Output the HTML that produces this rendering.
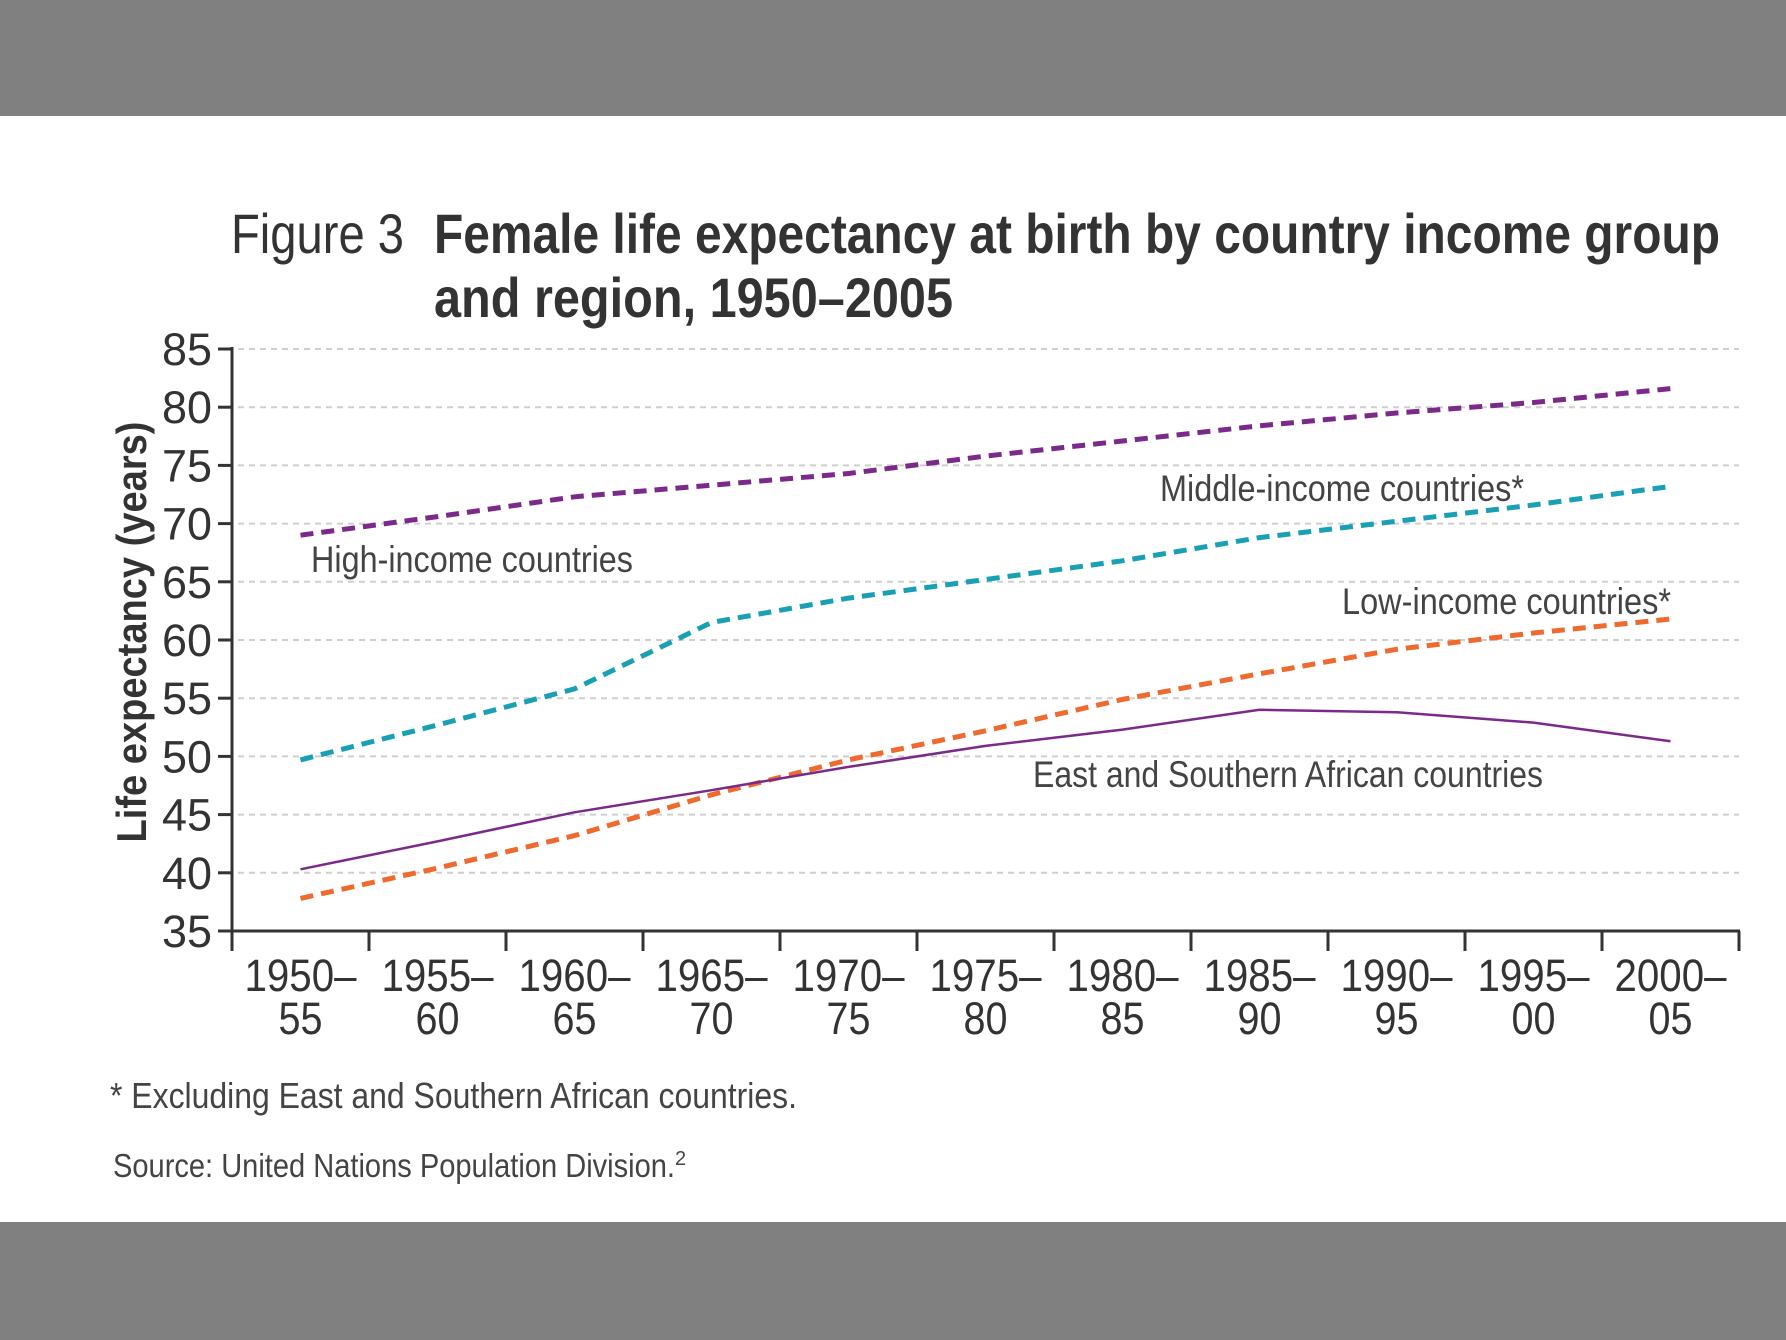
<!DOCTYPE html>
<html><head><meta charset="utf-8"><style>
html,body{margin:0;padding:0;background:#fff;}
svg{display:block;font-family:"Liberation Sans",sans-serif;}
</style></head><body>
<svg width="1786" height="1340" viewBox="0 0 1786 1340" id="chart">
<rect x="0" y="0" width="1786" height="116" fill="#808080"/>
<rect x="0" y="1222" width="1786" height="118" fill="#808080"/>
<text x="231" y="253" font-size="56" fill="#333" textLength="173" lengthAdjust="spacingAndGlyphs">Figure 3</text>
<text x="434" y="253" font-size="56" font-weight="bold" fill="#333" textLength="1286" lengthAdjust="spacingAndGlyphs">Female life expectancy at birth by country income group</text>
<text x="434" y="317" font-size="56" font-weight="bold" fill="#333" textLength="519" lengthAdjust="spacingAndGlyphs">and region, 1950–2005</text>
<text transform="translate(146,632) rotate(-90)" text-anchor="middle" font-size="42" font-weight="bold" fill="#333" textLength="421" lengthAdjust="spacingAndGlyphs">Life expectancy (years)</text>
<g id="grid"></g><g id="axes"></g><g id="series"></g>
<text x="311" y="572" font-size="37" fill="#444" textLength="322" lengthAdjust="spacingAndGlyphs">High-income countries</text>
<text x="1160" y="501" font-size="37" fill="#444" textLength="364" lengthAdjust="spacingAndGlyphs">Middle-income countries*</text>
<text x="1342" y="614" font-size="37" fill="#444" textLength="329" lengthAdjust="spacingAndGlyphs">Low-income countries*</text>
<text x="1033" y="787" font-size="37" fill="#444" textLength="510" lengthAdjust="spacingAndGlyphs">East and Southern African countries</text>
<text x="110" y="1108" font-size="36" fill="#444" textLength="687" lengthAdjust="spacingAndGlyphs">* Excluding East and Southern African countries.</text>
<text x="113" y="1177" font-size="33" fill="#444"><tspan textLength="562" lengthAdjust="spacingAndGlyphs">Source: United Nations Population Division.</tspan><tspan font-size="20" dy="-12">2</tspan></text>
</svg>
<script>
const catLine1=["1950–","1955–","1960–","1965–","1970–","1975–","1980–","1985–","1990–","1995–","2000–"];
const catLine2=["55","60","65","70","75","80","85","90","95","00","05"];
const yTicks=[35,40,45,50,55,60,65,70,75,80,85];
const highIncome=[69,70.6,72.3,73.3,74.3,75.8,77.1,78.4,79.5,80.4,81.6];
const middleIncome=[49.7,52.7,55.8,61.5,63.6,65.2,66.8,68.8,70.2,71.6,73.2];
const lowIncome=[37.8,40.4,43.2,46.7,49.7,52.2,54.9,57.1,59.2,60.6,61.8];
const eastSouthAfrica=[40.3,42.7,45.2,47.1,49.1,50.9,52.3,54.0,53.8,52.9,51.3];
const NS="http://www.w3.org/2000/svg";
const X0=232,X1=1739,Y0=931,Y1=349,YMIN=35,YMAX=85;
const step=(X1-X0)/catLine1.length;
function xs(i){return X0+step*(i+0.5);}
function ys(v){return Y0-(v-YMIN)/(YMAX-YMIN)*(Y0-Y1);}
function mk(tag,attrs,parent){const e=document.createElementNS(NS,tag);for(const k in attrs)e.setAttribute(k,attrs[k]);parent.appendChild(e);return e;}
const grid=document.getElementById('grid'),axes=document.getElementById('axes'),ser=document.getElementById('series');
yTicks.forEach(v=>{
  const y=ys(v);
  if(v>YMIN){const g=mk('line',{x1:X0+6,x2:X1,y1:y,y2:y,stroke:'#cfcfcf','stroke-width':2,'stroke-dasharray':'6 5'},grid);
  
  }
  const t=mk('line',{x1:X0-14,x2:X0,y1:y,y2:y,stroke:'#333','stroke-width':3},axes);
  
  
  const l=mk('text',{x:X0-20,y:y+16,'text-anchor':'end','font-size':45,fill:'#333',textLength:50,lengthAdjust:'spacingAndGlyphs'},axes);
  l.textContent=v;
  
  
});
const ya=mk('line',{x1:X0,x2:X0,y1:Y1-2,y2:Y0+2,stroke:'#333','stroke-width':3},axes);


const xa=mk('line',{x1:X0-2,x2:X1+1,y1:Y0,y2:Y0,stroke:'#333','stroke-width':3},axes);


for(let i=0;i<=catLine1.length;i++){
  const x=X0+step*i;
  const t=mk('line',{x1:x,x2:x,y1:Y0,y2:Y0+20,stroke:'#333','stroke-width':3},axes);
  
  
}
catLine1.forEach((c,i)=>{
  const t=mk('text',{x:xs(i),'text-anchor':'middle','font-size':45,fill:'#333'},axes);
  
  
  const a=mk('tspan',{x:xs(i),y:991,textLength:112,lengthAdjust:'spacingAndGlyphs'},t);a.textContent=c;
  const b=mk('tspan',{x:xs(i),y:1034,textLength:44,lengthAdjust:'spacingAndGlyphs'},t);b.textContent=catLine2[i];
});
function line(vals,color,w,dash,name){
  const d=vals.map((v,i)=>(i?'L':'M')+xs(i).toFixed(1)+' '+ys(v).toFixed(1)).join(' ');
  const p=mk('path',{d:d,fill:'none',stroke:color,'stroke-width':w},ser);
  if(dash)p.setAttribute('stroke-dasharray',dash);
  
  
}
line(highIncome,'#7b2a8a',5,'13 8','series-high-income');
line(middleIncome,'#1aa0b5',5,'13 8','series-middle-income');
line(lowIncome,'#ee6a2f',5,'13 8','series-low-income');
line(eastSouthAfrica,'#7b2a8a',2.5,null,'series-east-southern-africa');
</script>
</body></html>
